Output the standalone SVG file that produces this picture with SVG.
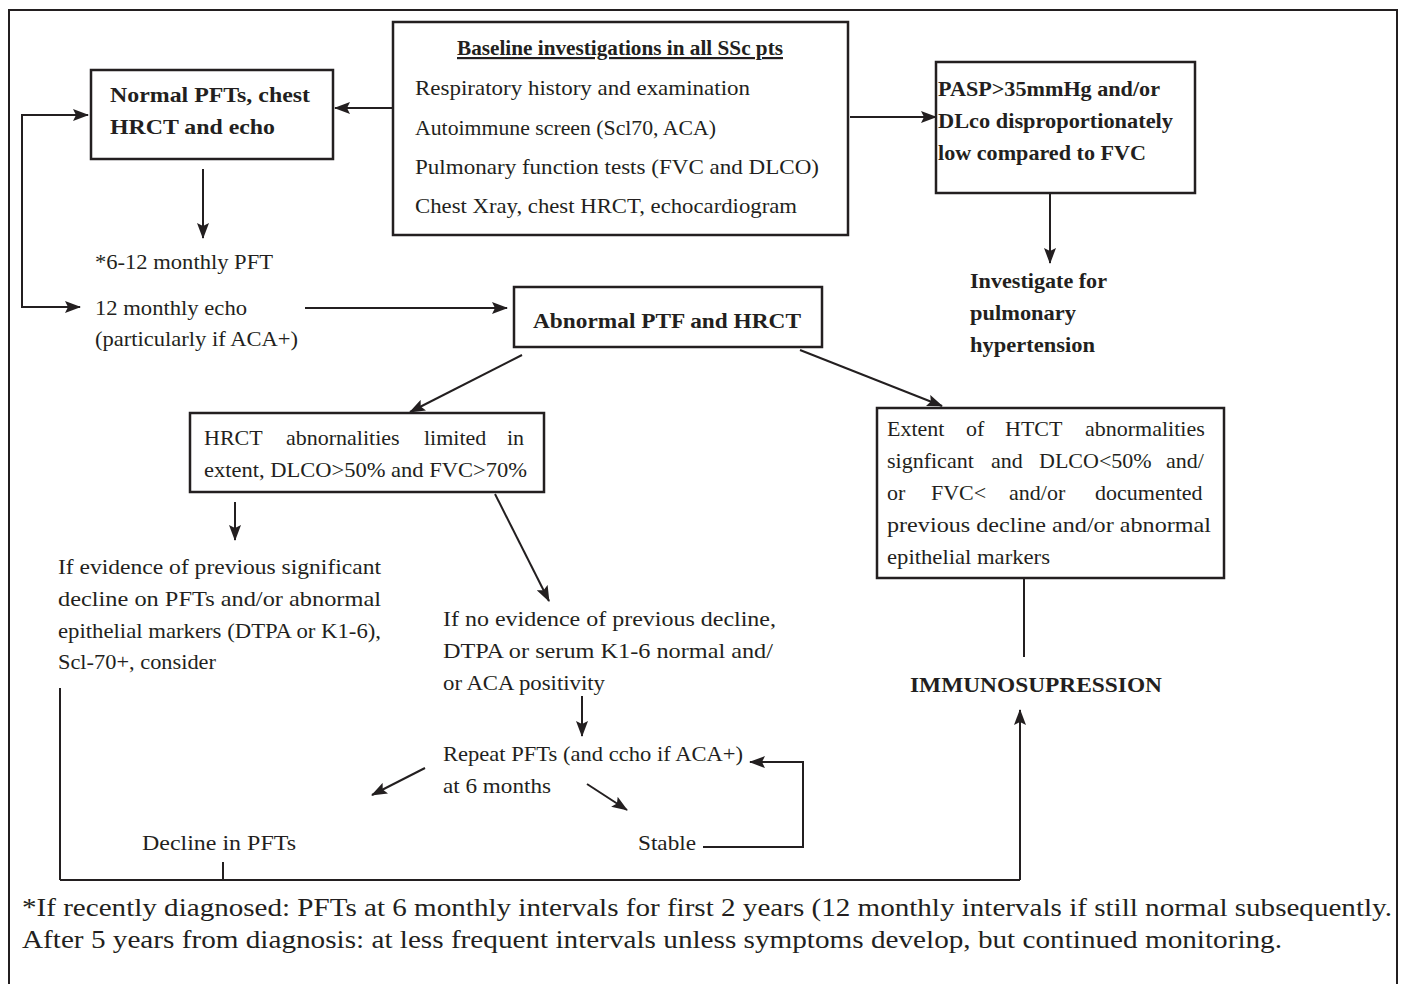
<svg xmlns="http://www.w3.org/2000/svg" width="1402" height="984" viewBox="0 0 1402 984">
<defs>
<marker id="ah" markerUnits="userSpaceOnUse" markerWidth="16" markerHeight="12" refX="15" refY="6" orient="auto">
<path d="M0,0 L16,6 L0,12 L3,6 Z" fill="#231f20"/>
</marker>
<style>
.box{fill:#fff;stroke:#231f20;stroke-width:2.5}
.ln{fill:none;stroke:#231f20;stroke-width:2}
.t{font-family:"Liberation Serif","Times New Roman",serif;font-size:22px;fill:#231f20}
.b{font-family:"Liberation Serif","Times New Roman",serif;font-size:22px;font-weight:bold;fill:#231f20}
.f{font-family:"Liberation Serif","Times New Roman",serif;font-size:25px;fill:#231f20}
</style>
</defs>
<rect x="9" y="10" width="1388" height="1010" fill="none" stroke="#231f20" stroke-width="2"/>

<g id="connectors">
<line class="ln" x1="393" y1="108" x2="335" y2="108" marker-end="url(#ah)"/>
<line class="ln" x1="850" y1="117" x2="936" y2="117" marker-end="url(#ah)"/>
<line class="ln" x1="1050" y1="193" x2="1050" y2="263" marker-end="url(#ah)"/>
<line class="ln" x1="203" y1="169" x2="203" y2="238" marker-end="url(#ah)"/>
<polyline class="ln" points="88,115 22,115 22,307 80,307" marker-end="url(#ah)"/>
<line class="ln" x1="22" y1="115" x2="88" y2="115" marker-end="url(#ah)"/>
<line class="ln" x1="305" y1="308" x2="507" y2="308" marker-end="url(#ah)"/>
<line class="ln" x1="522" y1="355" x2="410" y2="412" marker-end="url(#ah)"/>
<line class="ln" x1="800" y1="350" x2="942" y2="406" marker-end="url(#ah)"/>
<line class="ln" x1="235" y1="502" x2="235" y2="540" marker-end="url(#ah)"/>
<line class="ln" x1="495" y1="494" x2="549" y2="601" marker-end="url(#ah)"/>
<line class="ln" x1="582" y1="696" x2="582" y2="736" marker-end="url(#ah)"/>
<line class="ln" x1="425" y1="768" x2="372" y2="795" marker-end="url(#ah)"/>
<line class="ln" x1="587" y1="784" x2="627" y2="810" marker-end="url(#ah)"/>
<polyline class="ln" points="703,847 803,847 803,762 750,762" marker-end="url(#ah)"/>
<line class="ln" x1="1024" y1="578" x2="1024" y2="657"/>
<line class="ln" x1="60" y1="688" x2="60" y2="880"/>
<line class="ln" x1="223" y1="862" x2="223" y2="880"/>
<line class="ln" x1="60" y1="880" x2="1020" y2="880" stroke-width="2.5"/>
<line class="ln" x1="1020" y1="880" x2="1020" y2="710" marker-end="url(#ah)"/>
</g>

<g id="baseline">
<rect class="box" x="393" y="22" width="455" height="213"/>
<text class="b" x="620" y="55" text-anchor="middle" text-decoration="underline" textLength="326" lengthAdjust="spacingAndGlyphs">Baseline investigations in all SSc pts</text>
<text class="t" x="415" y="95" textLength="335" lengthAdjust="spacingAndGlyphs">Respiratory history and examination</text>
<text class="t" x="415" y="135" textLength="301" lengthAdjust="spacingAndGlyphs">Autoimmune screen (Scl70, ACA)</text>
<text class="t" x="415" y="174" textLength="404" lengthAdjust="spacingAndGlyphs">Pulmonary function tests (FVC and DLCO)</text>
<text class="t" x="415" y="213" textLength="382" lengthAdjust="spacingAndGlyphs">Chest Xray, chest HRCT, echocardiogram</text>
</g>

<g id="normal">
<rect class="box" x="91" y="70" width="242" height="89"/>
<text class="b" x="110" y="102" textLength="200" lengthAdjust="spacingAndGlyphs">Normal PFTs, chest</text>
<text class="b" x="110" y="134" textLength="165" lengthAdjust="spacingAndGlyphs">HRCT and echo</text>
</g>

<g id="pasp">
<rect class="box" x="936" y="62" width="259" height="131"/>
<text class="b" x="938" y="96" textLength="222" lengthAdjust="spacingAndGlyphs">PASP&gt;35mmHg and/or</text>
<text class="b" x="938" y="128" textLength="235" lengthAdjust="spacingAndGlyphs">DLco disproportionately</text>
<text class="b" x="938" y="160" textLength="208" lengthAdjust="spacingAndGlyphs">low compared to FVC</text>
</g>

<g id="investigate">
<text class="b" x="970" y="288" textLength="137" lengthAdjust="spacingAndGlyphs">Investigate for</text>
<text class="b" x="970" y="320" textLength="106" lengthAdjust="spacingAndGlyphs">pulmonary</text>
<text class="b" x="970" y="352" textLength="125" lengthAdjust="spacingAndGlyphs">hypertension</text>
</g>

<g id="monitor">
<text class="t" x="95" y="269" textLength="178" lengthAdjust="spacingAndGlyphs">*6-12 monthly PFT</text>
<text class="t" x="95" y="315" textLength="152" lengthAdjust="spacingAndGlyphs">12 monthly echo</text>
<text class="t" x="95" y="346" textLength="203" lengthAdjust="spacingAndGlyphs">(particularly if ACA+)</text>
</g>

<g id="abnormal">
<rect class="box" x="514" y="287" width="308" height="60"/>
<text class="b" x="533" y="328" textLength="268" lengthAdjust="spacingAndGlyphs">Abnormal PTF and HRCT</text>
</g>

<g id="limited">
<rect class="box" x="190" y="413" width="354" height="79"/>
<text class="t" y="445"><tspan x="204">HRCT</tspan><tspan x="286">abnornalities</tspan><tspan x="424">limited</tspan><tspan x="507">in</tspan></text>
<text class="t" x="204" y="477" textLength="323" lengthAdjust="spacingAndGlyphs">extent, DLCO&gt;50% and FVC&gt;70%</text>
</g>

<g id="evidence">
<text class="t" x="58" y="574" textLength="323" lengthAdjust="spacingAndGlyphs">If evidence of previous significant</text>
<text class="t" x="58" y="606" textLength="323" lengthAdjust="spacingAndGlyphs">decline on PFTs and/or abnormal</text>
<text class="t" x="58" y="638" textLength="323" lengthAdjust="spacingAndGlyphs">epithelial markers (DTPA or K1-6),</text>
<text class="t" x="58" y="669" textLength="158" lengthAdjust="spacingAndGlyphs">Scl-70+, consider</text>
</g>

<g id="noevidence">
<text class="t" x="443" y="626" textLength="333" lengthAdjust="spacingAndGlyphs">If no evidence of previous decline,</text>
<text class="t" x="443" y="658" textLength="330" lengthAdjust="spacingAndGlyphs">DTPA or serum K1-6 normal and/</text>
<text class="t" x="443" y="690" textLength="162" lengthAdjust="spacingAndGlyphs">or ACA positivity</text>
</g>

<g id="repeat">
<text class="t" x="443" y="761" textLength="300" lengthAdjust="spacingAndGlyphs">Repeat PFTs (and ccho if ACA+)</text>
<text class="t" x="443" y="793" textLength="108" lengthAdjust="spacingAndGlyphs">at 6 months</text>
</g>

<g id="stable">
<text class="t" x="638" y="850" textLength="58" lengthAdjust="spacingAndGlyphs">Stable</text>
</g>

<g id="decline">
<text class="t" x="142" y="850" textLength="154" lengthAdjust="spacingAndGlyphs">Decline in PFTs</text>
</g>

<g id="extent">
<rect class="box" x="877" y="408" width="347" height="170"/>
<text class="t" y="436"><tspan x="887">Extent</tspan><tspan x="966">of</tspan><tspan x="1005">HTCT</tspan><tspan x="1085">abnormalities</tspan></text>
<text class="t" y="468"><tspan x="887">signficant</tspan><tspan x="991">and</tspan><tspan x="1039">DLCO&lt;50%</tspan><tspan x="1166">and/</tspan></text>
<text class="t" y="500"><tspan x="887">or</tspan><tspan x="931">FVC&lt;</tspan><tspan x="1009">and/or</tspan><tspan x="1095">documented</tspan></text>
<text class="t" x="887" y="532" textLength="324" lengthAdjust="spacingAndGlyphs">previous decline and/or abnormal</text>
<text class="t" x="887" y="564" textLength="163" lengthAdjust="spacingAndGlyphs">epithelial markers</text>
</g>

<g id="immuno">
<text class="b" x="910" y="692" textLength="252" lengthAdjust="spacingAndGlyphs">IMMUNOSUPRESSION</text>
</g>

<g id="footer">
<text class="f" x="22" y="916" textLength="1370" lengthAdjust="spacingAndGlyphs">*If recently diagnosed: PFTs at 6 monthly intervals for first 2 years (12 monthly intervals if still normal subsequently.</text>
<text class="f" x="22" y="948" textLength="1260" lengthAdjust="spacingAndGlyphs">After 5 years from diagnosis: at less frequent intervals unless symptoms develop, but continued monitoring.</text>
</g>
</svg>
